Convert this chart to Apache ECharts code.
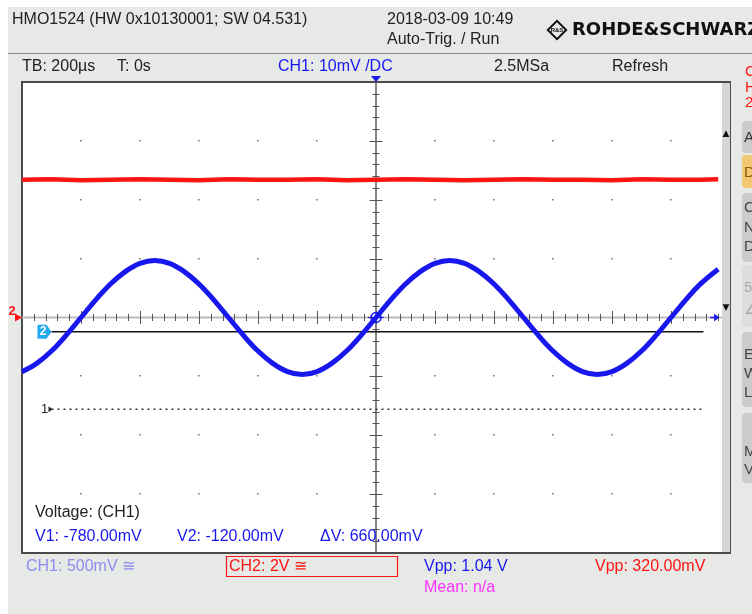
<!DOCTYPE html>
<html>
<head>
<meta charset="utf-8">
<title>HMO1524</title>
<script src="https://cdn.jsdelivr.net/npm/echarts@6.0.0/dist/echarts.min.js"></script>
<style>
  html, body { margin: 0; padding: 0; background: #fff; }
  #scope { width: 752px; height: 614px; }
</style>
</head>
<body>
<div id="scope"></div>
<script>
// screen range: 12 div x 200 µs, 8 div vertical
const timeRange = [-1200, 1200]
const voltRange = [-4, 4]
const divTimes = [-1000, -800, -600, -400, -200, 200, 400, 600, 800, 1000]
const divVolts = [-3, -2, -1, 1, 2, 3]

// CH1 (blue) every 50 µs, in divisions
const ch1Times = [-1200, -1150, -1100, -1050, -1000, -950, -900, -850, -800, -750,
  -700, -650, -600, -550, -500, -450, -400, -350, -300, -250,
  -200, -150, -100, -50, 0, 50, 100, 150, 200, 250,
  300, 350, 400, 450, 500, 550, 600, 650, 700, 750,
  800, 850, 900, 950, 1000, 1050, 1100, 1160]
const ch1Divs = [-0.92, -0.78, -0.57, -0.30, 0.00, 0.30, 0.57, 0.78, 0.92, 0.97,
  0.92, 0.78, 0.57, 0.30, 0.00, -0.30, -0.57, -0.78, -0.92, -0.97,
  -0.92, -0.78, -0.57, -0.30, 0.00, 0.30, 0.57, 0.78, 0.92, 0.97,
  0.92, 0.78, 0.57, 0.30, 0.00, -0.30, -0.57, -0.78, -0.92, -0.97,
  -0.92, -0.78, -0.57, -0.30, 0.00, 0.30, 0.57, 0.82]

// CH2 (red) flat noisy trace
const ch2Times = [-1200, -1100, -1000, -900, -800, -700, -600, -500, -400, -300, -200, -100,
  0, 100, 200, 300, 400, 500, 600, 700, 800, 900, 1000, 1100, 1160]
const ch2Divs = [2.34, 2.35, 2.33, 2.34, 2.35, 2.34, 2.33, 2.35, 2.34, 2.34, 2.35, 2.33,
  2.34, 2.35, 2.34, 2.33, 2.34, 2.35, 2.34, 2.34, 2.33, 2.35, 2.34, 2.34, 2.35]

// reference markers
const ref1Level = -1.56
const ref2Level = -0.24
const refSpan = [-1100, 1110]

const FONT = '"Liberation Sans", Arial, sans-serif'
const BLUE = '#1818ee'
const RED = '#ff1414'

function txt(x, y, text, color, size, extra) {
  return Object.assign({
    type: 'text', x: x, y: y, z: 50,
    style: { text: text, fill: color, font: (size || 16) + 'px ' + FONT, verticalAlign: 'middle' }
  }, extra || {})
}

function rect(x, y, w, h, fill, extra) {
  return Object.assign({
    type: 'rect', shape: { x: x, y: y, width: w, height: h }, style: { fill: fill }, z: 40
  }, extra || {})
}

function button(y, h, fill) {
  return rect(742, y, 20, h, fill, { shape: { x: 742, y: y, width: 20, height: h, r: 4 } })
}

// 表头、底部文字和右侧按钮
const graphics = [
  rect(0, 0, 752, 7, '#ffffff'),
  rect(0, 0, 8, 614, '#ffffff'),
  txt(12, 20, 'HMO1524 (HW 0x10130001; SW 04.531)', '#222', 16),
  txt(387, 20, '2018-03-09 10:49', '#222', 16),
  txt(387, 40, 'Auto-Trig. / Run', '#222', 16),
  {
    type: 'rect', x: 557, y: 30, rotation: Math.PI / 4, z: 50,
    shape: { x: -6.5, y: -6.5, width: 13, height: 13 },
    style: { fill: 'none', stroke: '#111', lineWidth: 2 }
  },
  txt(557, 30, 'R&S', '#111', 6, { style: { text: 'R&S', fill: '#111', font: 'bold 6px ' + FONT, align: 'center', verticalAlign: 'middle' } }),
  txt(572, 30, 'ROHDE&SCHWARZ', '#111', 18, { style: { text: 'ROHDE&SCHWARZ', fill: '#111', font: 'bold 18px "DejaVu Sans", sans-serif', verticalAlign: 'middle' } }),
  { type: 'line', z: 40, shape: { x1: 8, y1: 53.5, x2: 752, y2: 53.5 }, style: { stroke: '#8c8c8c', lineWidth: 1 } },
  txt(22, 67, 'TB: 200µs', '#222', 16),
  txt(117, 67, 'T: 0s', '#222', 16),
  txt(278, 67, 'CH1: 10mV /DC', BLUE, 16),
  txt(494, 67, '2.5MSa', '#222', 16),
  txt(612, 67, 'Refresh', '#222', 16),
  txt(745, 72, 'C', RED, 15),
  txt(745, 88, 'H', RED, 15),
  txt(745, 103, '2', RED, 15),

  // scroll strip at the right edge of the screen
  rect(722, 83, 8, 469, '#d3d6d3'),
  txt(726, 134, '▲', '#111', 9, { style: { text: '▲', fill: '#111', font: '9px "DejaVu Sans"', align: 'center', verticalAlign: 'middle' } }),
  txt(726, 308, '▼', '#111', 9, { style: { text: '▼', fill: '#111', font: '9px "DejaVu Sans"', align: 'center', verticalAlign: 'middle' } }),

  // side menu buttons (cut off)
  button(121, 32, '#c9ccc9'),
  txt(744, 138, 'A', '#333', 15),
  button(155, 33, '#f2c872'),
  txt(744, 173, 'D', '#8a5a10', 15),
  button(193, 69, '#c9ccc9'),
  txt(744, 208, 'C', '#444', 15),
  txt(744, 228, 'N', '#444', 15),
  txt(744, 247, 'D', '#444', 15),
  button(265, 62, '#dcdedc'),
  txt(744, 288, '5', '#aaa', 15),
  txt(744, 310, '∠', '#aaa', 15),
  button(332, 75, '#c9ccc9'),
  txt(744, 355, 'E', '#444', 15),
  txt(744, 374, 'W', '#444', 15),
  txt(744, 393, 'L', '#444', 15),
  button(413, 70, '#c9ccc9'),
  txt(744, 452, 'M', '#444', 15),
  txt(744, 470, 'V', '#444', 15),

  // readouts inside the screen
  txt(35, 513, 'Voltage: (CH1)', '#222', 16),
  txt(35, 537, 'V1: -780.00mV', BLUE, 16),
  txt(177, 537, 'V2: -120.00mV', BLUE, 16),
  txt(320, 537, 'ΔV: 660.00mV', BLUE, 16),

  // footer
  txt(26, 567, 'CH1: 500mV ≅', '#8c8cf0', 16),
  { type: 'rect', z: 40, shape: { x: 226.5, y: 556.5, width: 171, height: 20 }, style: { fill: 'none', stroke: RED, lineWidth: 1.2 } },
  txt(229, 567, 'CH2: 2V ≅', RED, 16),
  txt(424, 567, 'Vpp: 1.04 V', BLUE, 16),
  txt(595, 567, 'Vpp: 320.00mV', RED, 16),
  txt(424, 588, 'Mean: n/a', '#ff33ff', 16)
]

const chart = echarts.init(document.getElementById('scope'), null, { renderer: 'canvas' })

const option = {
  animation: false,
  backgroundColor: '#e6e9e6',
  grid: {
    left: 22, top: 82, width: 708, height: 471,
    show: true, backgroundColor: '#ffffff', borderColor: '#4a4a4a', borderWidth: 2
  },
  xAxis: { type: 'value', min: timeRange[0], max: timeRange[1], show: false },
  yAxis: { type: 'value', min: voltRange[0], max: voltRange[1], show: false },
  graphic: graphics,
  series: [
    {
      // 中心刻度和网格点
      type: 'custom',
      silent: true,
      z: 1,
      data: [[0, 0]],
      renderItem: (params, api) => {
        const o = api.coord([0, 0])
        const left = api.coord([timeRange[0], 0])[0]
        const right = api.coord([timeRange[1], 0])[0]
        const top = api.coord([0, voltRange[1]])[1]
        const bottom = api.coord([0, voltRange[0]])[1]
        const kids = []
        kids.push({ type: 'line', shape: { x1: left, y1: o[1], x2: right, y2: o[1] }, style: { stroke: '#bcbcbc', lineWidth: 2 } })
        kids.push({ type: 'line', shape: { x1: o[0], y1: top, x2: o[0], y2: bottom }, style: { stroke: '#5a5a5a', lineWidth: 1.5 } })
        for (let t = timeRange[0] + 40; t < timeRange[1]; t += 40) {
          const x = Math.round(api.coord([t, 0])[0]) + 0.5
          const h = t % 200 === 0 ? 6.5 : 3.5
          kids.push({ type: 'line', shape: { x1: x, y1: o[1] - h, x2: x, y2: o[1] + h }, style: { stroke: '#555', lineWidth: 1 } })
        }
        for (let v = voltRange[0] + 0.2; v < voltRange[1] - 0.1; v += 0.2) {
          const y = Math.round(api.coord([0, v])[1]) + 0.5
          const major = Math.abs(v - Math.round(v)) < 0.01
          const h = major ? 6.5 : 3.5
          kids.push({ type: 'line', shape: { x1: o[0] - h, y1: y, x2: o[0] + h, y2: y }, style: { stroke: '#555', lineWidth: 1 } })
        }
        divTimes.forEach(t => {
          divVolts.forEach(v => {
            const p = api.coord([t, v])
            kids.push({ type: 'rect', shape: { x: Math.round(p[0]) - 1, y: Math.round(p[1]) - 1, width: 1.6, height: 1.6 }, style: { fill: '#777' } })
          })
        })
        return { type: 'group', children: kids }
      }
    },
    {
      name: 'ref1',
      type: 'line',
      z: 2,
      silent: true,
      showSymbol: false,
      data: refSpan.map(t => [t, ref1Level]),
      lineStyle: { color: '#333', width: 1.5, type: [2, 4] }
    },
    {
      name: 'ref2',
      type: 'line',
      z: 2,
      silent: true,
      showSymbol: false,
      data: refSpan.map(t => [t, ref2Level]),
      lineStyle: { color: '#111', width: 1.5 }
    },
    {
      name: 'CH2',
      type: 'line',
      z: 3,
      showSymbol: false,
      data: ch2Times.map((t, i) => [t, ch2Divs[i]]),
      lineStyle: { color: RED, width: 4.5 }
    },
    {
      name: 'CH1',
      type: 'line',
      z: 4,
      smooth: 0.4,
      showSymbol: false,
      data: ch1Times.map((t, i) => [t, ch1Divs[i]]),
      lineStyle: { color: BLUE, width: 5 }
    },
    {
      // 标记：通道零点、参考线标签、触发点
      type: 'custom',
      silent: true,
      z: 5,
      data: [[0, 0]],
      renderItem: (params, api) => {
        const o = api.coord([0, 0])
        const left = api.coord([timeRange[0], 0])[0]
        const top = api.coord([0, voltRange[1]])[1]
        const p1 = api.coord([refSpan[0], ref1Level])
        const p2 = api.coord([refSpan[0], ref2Level])
        const pe = api.coord([ch1Times[ch1Times.length - 1], 0])
        return {
          type: 'group',
          children: [
            { type: 'polygon', shape: { points: [[left - 7, o[1] - 4], [left, o[1]], [left - 7, o[1] + 4]] }, style: { fill: RED } },
            { type: 'text', x: left - 10, y: o[1] - 6, style: { text: '2', fill: RED, font: 'bold 13px ' + FONT, align: 'center', verticalAlign: 'middle' } },
            { type: 'polygon', shape: { points: [[p2[0] - 14, p2[1] - 7], [p2[0] - 5, p2[1] - 7], [p2[0], p2[1]], [p2[0] - 5, p2[1] + 7], [p2[0] - 14, p2[1] + 7]] }, style: { fill: '#22aaee' } },
            { type: 'text', x: p2[0] - 8.5, y: p2[1] + 0.5, style: { text: '2', fill: '#fff', font: 'bold 12px ' + FONT, align: 'center', verticalAlign: 'middle' } },
            { type: 'text', x: p1[0] - 7, y: p1[1], style: { text: '1', fill: '#222', font: '13px ' + FONT, align: 'center', verticalAlign: 'middle' } },
            { type: 'polygon', shape: { points: [[p1[0] - 3, p1[1] - 3], [p1[0] + 1, p1[1]], [p1[0] - 3, p1[1] + 3]] }, style: { fill: '#222' } },
            { type: 'circle', shape: { cx: o[0], cy: o[1], r: 5 }, style: { fill: 'none', stroke: BLUE, lineWidth: 1.5 } },
            { type: 'line', shape: { x1: o[0] - 8, y1: o[1], x2: o[0] + 8, y2: o[1] }, style: { stroke: BLUE, lineWidth: 1 } },
            { type: 'polygon', shape: { points: [[pe[0] - 4, o[1] - 4], [pe[0] + 1, o[1]], [pe[0] - 4, o[1] + 4]] }, style: { fill: BLUE } },
            { type: 'line', shape: { x1: pe[0] - 8, y1: o[1], x2: pe[0], y2: o[1] }, style: { stroke: BLUE, lineWidth: 1.5 } },
            { type: 'polygon', shape: { points: [[o[0] - 5, top - 6], [o[0] + 5, top - 6], [o[0], top]] }, style: { fill: BLUE } }
          ]
        }
      }
    }
  ]
}

chart.setOption(option)
</script>
</body>
</html>
